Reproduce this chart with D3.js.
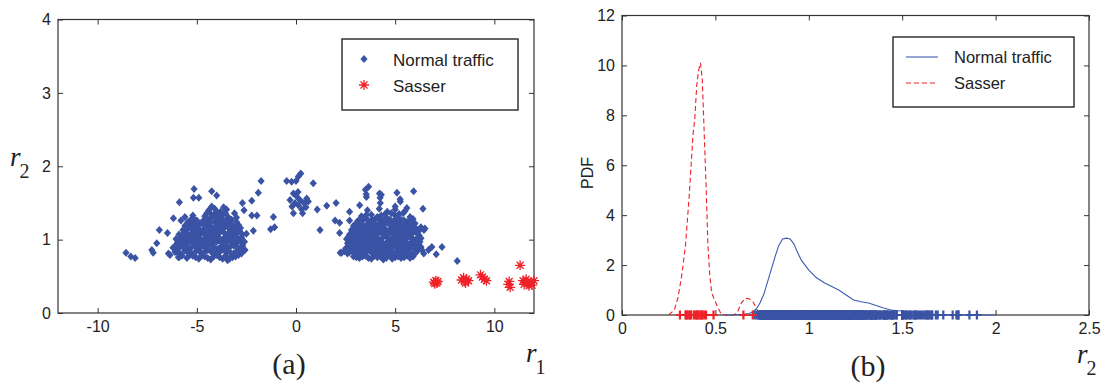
<!DOCTYPE html>
<html>
<head>
<meta charset="utf-8">
<script src="https://cdn.jsdelivr.net/npm/d3@7"></script>
<style>
body { margin: 0; background: #fff; }
svg { display: block; }
.tick text { font-family: "Liberation Sans", Arial, sans-serif; font-size: 16px; fill: #222; }
.lbl { font-family: "Liberation Sans", Arial, sans-serif; fill: #222; }
.serif { font-family: "Liberation Serif", "Times New Roman", serif; fill: #222; }
</style>
</head>
<body>
<div id="vis"></div>
<script>
// ---- panel (a): r1 / r2 scatter ----
const r1Ticks = [-10, -5, 0, 5, 10];
const r2TicksA = [0, 1, 2, 3, 4];

// normal traffic, left cluster [r1, r2]
const normalLeft = [
  [-5.9,0.76],[-5.5,0.75],[-5.2,0.78],[-4.9,0.74],[-4.6,0.77],[-4.3,0.73],[-4.0,0.79],[-3.7,0.74],[-3.45,0.72],[-3.2,0.76],[-2.9,0.79],
  [-6.1,0.83],[-5.8,0.8],[-5.6,0.85],[-5.3,0.82],[-5.05,0.84],[-4.75,0.81],[-4.45,0.86],[-4.15,0.8],[-3.85,0.83],[-3.6,0.85],[-3.3,0.82],[-3.0,0.84],[-2.75,0.81],
  [-6.2,0.89],[-5.95,0.87],[-5.7,0.91],[-5.45,0.88],[-5.15,0.92],[-4.9,0.87],[-4.6,0.9],[-4.3,0.93],[-4.05,0.88],[-3.75,0.91],[-3.45,0.89],[-3.15,0.92],[-2.85,0.87],[-2.6,0.86],
  [-6.0,0.95],[-5.75,0.97],[-5.5,0.94],[-5.25,0.98],[-4.95,0.95],[-4.7,0.93],[-4.4,0.97],[-4.15,0.96],[-3.9,0.99],[-3.6,0.94],[-3.3,0.97],[-3.05,0.95],[-2.8,0.98],
  [-6.05,1.01],[-5.8,1.03],[-5.55,1.0],[-5.3,1.04],[-5.0,1.02],[-4.75,0.99],[-4.5,1.03],[-4.2,1.01],[-3.95,1.04],[-3.7,1.0],[-3.4,1.02],[-3.15,1.05],[-2.9,1.01],[-2.65,0.98],
  [-5.9,1.07],[-5.65,1.09],[-5.4,1.06],[-5.1,1.1],[-4.85,1.08],[-4.55,1.05],[-4.3,1.09],[-4.05,1.07],[-3.8,1.11],[-3.5,1.06],[-3.25,1.08],[-2.95,1.1],[-2.7,1.07],
  [-5.7,1.13],[-5.45,1.15],[-5.2,1.12],[-4.95,1.16],[-4.65,1.14],[-4.4,1.11],[-4.1,1.15],[-3.85,1.13],[-3.6,1.17],[-3.3,1.12],[-3.05,1.14],[-2.8,1.16],
  [-5.6,1.19],[-5.3,1.21],[-5.05,1.18],[-4.8,1.22],[-4.5,1.2],[-4.25,1.17],[-3.95,1.21],[-3.7,1.19],[-3.45,1.23],[-3.15,1.18],[-2.9,1.2],
  [-5.8,1.26],[-5.45,1.24],[-5.15,1.28],[-4.7,1.25],[-4.4,1.27],[-4.1,1.24],[-3.85,1.29],[-3.55,1.25],[-3.25,1.27],[-3.0,1.3],
  [-5.6,1.31],[-5.2,1.33],[-4.6,1.32],[-4.3,1.35],[-4.0,1.31],[-3.7,1.34],[-3.4,1.3],[-3.1,1.36],
  [-4.4,1.4],[-4.1,1.42],[-3.8,1.38],[-3.5,1.41],[-4.25,1.45],[-3.65,1.44],[-3.95,1.37],
  [-5.75,0.78],[-5.35,0.79],[-5.05,0.76],[-4.75,0.78],[-4.45,0.75],[-4.15,0.77],[-3.85,0.76],[-3.55,0.78],[-3.35,0.74],[-3.05,0.77],
  [-5.95,0.82],[-5.45,0.83],[-4.9,0.85],[-4.6,0.83],[-4.3,0.84],[-4.0,0.82],[-3.75,0.86],[-3.45,0.84],[-3.15,0.81],[-2.9,0.85],
  [-6.05,0.92],[-5.85,0.9],[-5.55,0.9],[-5.3,0.89],[-5.0,0.9],[-4.75,0.91],[-4.45,0.92],[-4.2,0.9],[-3.9,0.88],[-3.6,0.9],[-3.3,0.91],[-3.0,0.9],[-2.7,0.92],
  [-5.9,0.98],[-5.65,0.96],[-5.4,0.97],[-5.1,0.96],[-4.85,0.99],[-4.55,0.95],[-4.3,0.98],[-4.0,0.97],[-3.75,0.96],[-3.45,0.98],[-3.2,0.99],[-2.95,0.96],
  [-5.7,1.04],[-5.45,1.02],[-5.15,1.03],[-4.9,1.05],[-4.6,1.01],[-4.35,1.05],[-4.1,1.03],[-3.85,1.02],[-3.55,1.04],[-3.25,1.03],[-3.0,1.04],[-2.75,1.03],
  [-5.55,1.1],[-5.25,1.08],[-5.0,1.11],[-4.7,1.1],[-4.45,1.08],[-4.2,1.12],[-3.95,1.09],[-3.65,1.1],[-3.4,1.09],[-3.1,1.07],[-2.85,1.12],
  [-5.55,1.16],[-5.3,1.15],[-5.1,1.16],[-4.85,1.13],[-4.55,1.17],[-4.25,1.14],[-3.95,1.17],[-3.7,1.15],[-3.4,1.16],[-3.15,1.14],
  [-5.45,1.21],[-5.2,1.23],[-4.95,1.2],[-4.65,1.21],[-4.35,1.23],[-4.05,1.18],[-3.8,1.23],[-3.55,1.2],[-3.3,1.22],[-3.0,1.24],
  [-5.3,1.27],[-5.0,1.26],[-4.55,1.28],[-4.25,1.3],[-3.95,1.26],[-3.7,1.28],[-3.4,1.26],[-4.5,1.36],[-4.15,1.34],[-3.85,1.33],[-3.55,1.36],
  [-8.57,0.82],[-8.33,0.77],[-8.11,0.75],[-7.27,0.86],[-7.2,0.82],[-7.02,0.95],[-6.89,1.13],[-6.43,0.81],[-6.35,0.79],
  [-6.48,1.09],[-6.18,1.29],[-5.88,1.51],[-5.93,0.76],[-5.14,1.69],[-5.17,1.57],[-4.9,1.57],[-4.25,1.66],[-4.0,1.6],
  [-3.49,0.75],[-2.7,1.5],[-2.62,1.4],[-2.23,1.53],[-1.9,1.64],[-1.76,1.8],[-2.23,1.33],[-1.97,1.33],[-2.15,1.12],
  [-1.14,1.31],[-1.28,1.14],[-1.08,1.17],[-2.57,0.86],[-2.6,0.97],[-2.5,1.08]
];

// normal traffic, middle group
const normalMid = [
  [-0.47,1.8],[-0.22,1.79],[0.0,1.8],[0.12,1.86],[0.24,1.9],[-0.13,1.63],[0.03,1.59],[-0.3,1.54],[0.2,1.54],
  [0.54,1.56],[0.62,1.52],[0.12,1.47],[0.29,1.41],[-0.13,1.36],[0.33,1.36],[0.87,1.77],[1.07,1.41],[1.55,1.46],
  [2.02,1.5],[1.21,1.13],[-0.05,1.5],[0.1,1.65],[0.4,1.5],[-0.2,1.45],[0.5,1.44]
];

// normal traffic, right cluster
const normalRight = [
  [2.9,0.77],[3.2,0.75],[3.5,0.78],[3.8,0.74],[4.1,0.76],[4.4,0.73],[4.7,0.79],[5.0,0.76],[5.3,0.75],[5.6,0.78],[5.9,0.77],
  [2.3,0.82],[2.6,0.81],[2.85,0.84],[3.1,0.8],[3.35,0.83],[3.6,0.85],[3.85,0.81],[4.1,0.84],[4.35,0.8],[4.6,0.86],[4.85,0.82],[5.1,0.85],[5.35,0.81],[5.6,0.83],[5.85,0.8],[6.1,0.84],
  [2.5,0.88],[2.75,0.9],[3.0,0.87],[3.25,0.91],[3.5,0.89],[3.75,0.92],[4.0,0.88],[4.25,0.86],[4.5,0.9],[4.75,0.87],[5.0,0.93],[5.25,0.89],[5.5,0.91],[5.75,0.88],[6.0,0.87],[6.3,0.9],
  [2.6,0.95],[2.85,0.97],[3.1,0.94],[3.35,0.98],[3.6,0.96],[3.85,0.93],[4.1,0.99],[4.35,0.95],[4.6,0.97],[4.85,0.94],[5.1,0.96],[5.35,0.98],[5.6,0.95],[5.85,0.97],[6.1,0.94],
  [2.55,1.01],[2.8,1.03],[3.05,1.0],[3.3,1.04],[3.55,1.02],[3.8,0.99],[4.05,1.03],[4.3,1.01],[4.55,1.05],[4.8,1.0],[5.05,1.02],[5.3,1.04],[5.55,1.01],[5.8,1.03],[6.05,1.0],[6.3,1.02],
  [2.7,1.07],[2.95,1.09],[3.2,1.06],[3.45,1.1],[3.7,1.08],[3.95,1.05],[4.2,1.11],[4.45,1.07],[4.7,1.09],[4.95,1.06],[5.2,1.1],[5.45,1.08],[5.7,1.07],[5.95,1.11],[6.2,1.06],
  [2.8,1.13],[3.05,1.15],[3.3,1.12],[3.55,1.16],[3.8,1.14],[4.05,1.12],[4.3,1.17],[4.55,1.13],[4.8,1.15],[5.05,1.14],[5.3,1.12],[5.55,1.16],[5.8,1.13],[6.05,1.15],[6.45,1.13],
  [2.9,1.19],[3.2,1.21],[3.5,1.18],[3.75,1.22],[4.0,1.2],[4.3,1.19],[4.6,1.23],[4.9,1.18],[5.2,1.21],[5.45,1.2],[5.7,1.19],[6.0,1.22],[6.3,1.17],
  [3.1,1.25],[3.4,1.27],[3.7,1.24],[4.0,1.28],[4.3,1.26],[4.6,1.29],[4.9,1.25],[5.3,1.27],[5.6,1.24],[5.9,1.28],
  [3.3,1.32],[3.8,1.34],[4.1,1.31],[4.5,1.35],[5.0,1.33],[5.4,1.36],[5.75,1.31],
  [3.6,1.4],[4.2,1.42],[4.6,1.38],[5.0,1.41],[5.5,1.39],[4.25,1.5],[3.55,1.58],[4.3,1.61],[5.25,1.55],
  [3.05,0.76],[3.35,0.77],[3.65,0.75],[3.95,0.78],[4.25,0.77],[4.55,0.75],[4.85,0.74],[5.15,0.77],[5.45,0.76],[5.75,0.75],
  [2.45,0.84],[2.7,0.83],[2.95,0.81],[3.25,0.85],[3.5,0.82],[3.75,0.84],[4.0,0.8],[4.25,0.83],[4.5,0.82],[4.75,0.84],[5.0,0.8],[5.25,0.83],[5.5,0.85],[5.75,0.82],[6.0,0.81],
  [2.65,0.91],[2.9,0.89],[3.15,0.9],[3.4,0.92],[3.65,0.88],[3.9,0.9],[4.15,0.91],[4.4,0.89],[4.65,0.92],[4.9,0.9],[5.15,0.88],[5.4,0.9],[5.65,0.92],[5.9,0.9],[6.15,0.89],
  [2.7,0.98],[2.95,0.96],[3.25,0.95],[3.5,0.97],[3.75,0.96],[4.0,0.95],[4.25,0.98],[4.5,0.94],[4.75,0.96],[5.0,0.98],[5.25,0.95],[5.5,0.97],[5.75,0.94],[6.0,0.96],[6.25,0.97],
  [2.65,1.04],[2.9,1.05],[3.15,1.02],[3.4,1.01],[3.65,1.04],[3.9,1.02],[4.15,1.0],[4.4,1.04],[4.65,1.02],[4.9,1.03],[5.15,1.01],[5.4,1.02],[5.65,1.04],[5.9,1.01],[6.15,1.03],
  [2.85,1.1],[3.1,1.08],[3.35,1.07],[3.6,1.09],[3.85,1.1],[4.1,1.07],[4.35,1.09],[4.6,1.06],[4.85,1.1],[5.1,1.08],[5.35,1.06],[5.6,1.09],[5.85,1.08],[6.1,1.09],
  [2.95,1.16],[3.2,1.14],[3.45,1.13],[3.7,1.15],[3.95,1.16],[4.2,1.14],[4.45,1.15],[4.7,1.12],[4.95,1.16],[5.2,1.15],[5.45,1.13],[5.7,1.15],[5.95,1.14],[6.2,1.12],
  [3.05,1.22],[3.35,1.2],[3.6,1.21],[3.9,1.23],[4.15,1.21],[4.45,1.22],[4.75,1.2],[5.05,1.23],[5.3,1.19],[5.6,1.22],[5.85,1.2],
  [3.25,1.28],[3.55,1.29],[3.85,1.27],[4.15,1.29],[4.45,1.27],[4.75,1.27],[5.1,1.29],[5.45,1.26],[5.75,1.27],[3.55,1.34],[4.3,1.33],[4.8,1.36],[5.2,1.35],
  [2.7,1.38],[3.21,1.47],[3.5,1.68],[3.66,1.72],[3.54,1.62],[4.21,1.63],[4.24,1.57],[5.09,1.64],[5.93,1.66],
  [5.26,1.52],[5.0,1.45],[5.59,1.43],[6.4,1.42],[2.7,1.26],[2.23,0.82],[6.35,0.86],[6.44,0.81],[6.85,0.9],
  [6.68,0.86],[7.07,0.8],[7.36,0.9],[8.13,0.71],[6.5,1.15],[5.93,1.14],[2.2,1.09],[2.2,1.23],[1.97,1.26]
];

// Sasser [r1, r2]
const sasser = [
  [6.95,0.42],[7.05,0.44],[7.1,0.41],[7.0,0.4],[7.15,0.43],
  [8.35,0.45],[8.5,0.43],[8.6,0.46],[8.7,0.44],[8.45,0.48],[8.55,0.41],
  [9.3,0.52],[9.5,0.46],[9.6,0.44],[9.4,0.49],
  [10.7,0.39],[10.75,0.43],[10.8,0.35],
  [11.3,0.65],[11.45,0.44],[11.55,0.42],[11.6,0.46],[11.7,0.4],[11.75,0.37],[11.85,0.42],[11.9,0.38],[12.0,0.44],[11.5,0.39]
];

// ---- panel (b): PDF of r2 ----
const r2TicksB = [0, 0.5, 1, 1.5, 2, 2.5];
const pdfTicks = [0, 2, 4, 6, 8, 10, 12];

const normalPdfX = [0.55,0.6,0.65,0.68,0.70,0.72,0.74,0.76,0.78,0.80,0.82,0.84,0.86,0.88,0.90,0.92,0.94,0.96,0.98,1.00,1.04,1.08,1.12,1.16,1.20,1.24,1.28,1.32,1.36,1.40,1.44,1.48,1.52,1.56,1.60,1.65,1.70,1.80,1.90,2.00];
const normalPdfY = [0,0.01,0.03,0.06,0.12,0.25,0.5,0.85,1.35,1.85,2.35,2.8,3.05,3.08,3.05,2.85,2.5,2.2,2.0,1.8,1.5,1.3,1.15,1.0,0.8,0.6,0.53,0.48,0.38,0.28,0.2,0.17,0.14,0.11,0.07,0.04,0.02,0.01,0,0];

const sasserPdfX = [0.25,0.28,0.30,0.32,0.34,0.36,0.38,0.39,0.40,0.41,0.42,0.43,0.44,0.45,0.46,0.47,0.48,0.49,0.51,0.53,0.55,0.60,0.62,0.64,0.66,0.68,0.70,0.72,0.74];
const sasserPdfY = [0,0.2,0.7,1.6,2.8,4.8,7.2,7.9,9.2,9.8,10.1,9.4,7.3,5.2,2.8,1.6,0.9,0.7,0.35,0.05,0,0,0.15,0.5,0.67,0.65,0.55,0.25,0];

// r2 values of Sasser samples as marked along the axis
const sasserRug = [0.31,0.34,0.345,0.35,0.36,0.365,0.37,0.385,0.395,0.40,0.405,0.41,0.42,0.425,0.43,0.44,0.45,0.49,0.65,0.70];

const blue = "#3a53a4", red = "#ee2228", axisCol = "#333";

const svg = d3.select("#vis").append("svg").attr("width", 1108).attr("height", 384);

function frame(x, y, xt, yt) {
  const [x0, x1] = x.range(), [y0, y1] = y.range();
  const g = svg.append("g");
  const fmt = d => String(d);
  g.append("g").attr("transform", `translate(0,${y0})`)
    .call(d3.axisBottom(x).tickValues(xt).tickSizeInner(-5).tickSizeOuter(0).tickPadding(8).tickFormat(fmt));
  g.append("g").attr("transform", `translate(0,${y1})`)
    .call(d3.axisTop(x).tickValues(xt).tickSizeInner(-5).tickSizeOuter(0).tickFormat(""));
  g.append("g").attr("transform", `translate(${x0},0)`)
    .call(d3.axisLeft(y).tickValues(yt).tickSizeInner(-5).tickSizeOuter(0).tickPadding(7).tickFormat(fmt));
  g.append("g").attr("transform", `translate(${x1},0)`)
    .call(d3.axisRight(y).tickValues(yt).tickSizeInner(-5).tickSizeOuter(0).tickFormat(""));
  g.selectAll(".domain").remove();
  g.selectAll(".tick line").attr("stroke", axisCol);
  g.append("rect").attr("x", x0).attr("y", y1).attr("width", x1 - x0).attr("height", y0 - y1)
    .attr("fill", "none").attr("stroke", axisCol).attr("stroke-width", 1.2);
}

function italicLabel(x, y, main, sub) {
  const t = svg.append("text").attr("class", "serif").attr("x", x).attr("y", y);
  t.append("tspan").attr("font-style", "italic").attr("font-size", 27).text(main);
  t.append("tspan").attr("font-size", 20).attr("dx", -1).attr("dy", 12).text(sub);
}

const diamond = "M0,-4L3.6,0L0,4L-3.6,0Z";
const asterisk = "M-5,0H5M0,-5V5M-3.5,-3.5L3.5,3.5M-3.5,3.5L3.5,-3.5";
const plus = "M-4,0H4M0,-4.5V4.5";

// ---------- panel (a) ----------
const xa = d3.scaleLinear().domain([-12, 12]).range([58, 534]);
const ya = d3.scaleLinear().domain([0, 4]).range([313, 19.5]);
frame(xa, ya, r1Ticks, r2TicksA);

const normalAll = normalLeft.concat(normalMid, normalRight);
svg.append("g").selectAll("path").data(normalAll).join("path")
  .attr("d", diamond)
  .attr("transform", d => `translate(${xa(d[0])},${ya(d[1])})`)
  .attr("fill", blue);
svg.append("g").selectAll("path").data(sasser).join("path")
  .attr("d", asterisk)
  .attr("transform", d => `translate(${xa(d[0])},${ya(d[1])})`)
  .attr("fill", "none").attr("stroke", red).attr("stroke-width", 1.3);

// legend (a)
const la = svg.append("g");
la.append("rect").attr("x", 342).attr("y", 39).attr("width", 176).attr("height", 71)
  .attr("fill", "#fff").attr("stroke", axisCol).attr("stroke-width", 1.5);
la.append("path").attr("d", diamond).attr("transform", "translate(364,59)").attr("fill", blue);
la.append("path").attr("d", asterisk).attr("transform", "translate(364,85)")
  .attr("fill", "none").attr("stroke", red).attr("stroke-width", 1.3);
la.append("text").attr("class", "lbl").attr("x", 393).attr("y", 66).attr("font-size", 17).text("Normal traffic");
la.append("text").attr("class", "lbl").attr("x", 393).attr("y", 92).attr("font-size", 17).text("Sasser");

italicLabel(10, 166, "r", "2");
italicLabel(526, 362, "r", "1");
svg.append("text").attr("class", "serif").attr("x", 289).attr("y", 374)
  .attr("text-anchor", "middle").attr("font-size", 30).text("(a)");

// ---------- panel (b) ----------
const xb = d3.scaleLinear().domain([0, 2.5]).range([622, 1089]);
const yb = d3.scaleLinear().domain([0, 12]).range([315, 15.5]);
frame(xb, yb, r2TicksB, pdfTicks);

const line = d3.line().x(d => xb(d[0])).y(d => yb(d[1]));
svg.append("path").datum(sasserPdfX.map((v, i) => [v, sasserPdfY[i]]))
  .attr("d", line).attr("fill", "none").attr("stroke", red).attr("stroke-width", 1.1)
  .attr("stroke-dasharray", "5,3");
svg.append("path").datum(normalPdfX.map((v, i) => [v, normalPdfY[i]]))
  .attr("d", line).attr("fill", "none").attr("stroke", "#3d5cae").attr("stroke-width", 1.1);

// rug marks of the r2 samples
svg.append("g").selectAll("path").data(normalAll.map(d => d[1])).join("path")
  .attr("d", plus).attr("transform", d => `translate(${xb(d)},${yb(0)})`)
  .attr("fill", "none").attr("stroke", blue).attr("stroke-width", 2.2);
svg.append("g").selectAll("path").data(sasserRug).join("path")
  .attr("d", plus).attr("transform", d => `translate(${xb(d)},${yb(0)})`)
  .attr("fill", "none").attr("stroke", red).attr("stroke-width", 2.2);

// legend (b)
const lb = svg.append("g");
lb.append("rect").attr("x", 893).attr("y", 37).attr("width", 181).attr("height", 70)
  .attr("fill", "#fff").attr("stroke", axisCol).attr("stroke-width", 1.5);
lb.append("line").attr("x1", 906).attr("x2", 938).attr("y1", 57).attr("y2", 57)
  .attr("stroke", "#3d5cae").attr("stroke-width", 1.1);
lb.append("line").attr("x1", 906).attr("x2", 938).attr("y1", 83).attr("y2", 83)
  .attr("stroke", red).attr("stroke-width", 1.1).attr("stroke-dasharray", "5,3");
lb.append("text").attr("class", "lbl").attr("x", 954).attr("y", 63).attr("font-size", 16.5).text("Normal traffic");
lb.append("text").attr("class", "lbl").attr("x", 954).attr("y", 89).attr("font-size", 16.5).text("Sasser");

svg.append("text").attr("class", "lbl").attr("font-size", 16).attr("text-anchor", "middle")
  .attr("transform", "translate(593,173) rotate(-90)").text("PDF");
italicLabel(1077, 363, "r", "2");
svg.append("text").attr("class", "serif").attr("x", 868).attr("y", 376)
  .attr("text-anchor", "middle").attr("font-size", 30).text("(b)");
</script>
</body>
</html>
